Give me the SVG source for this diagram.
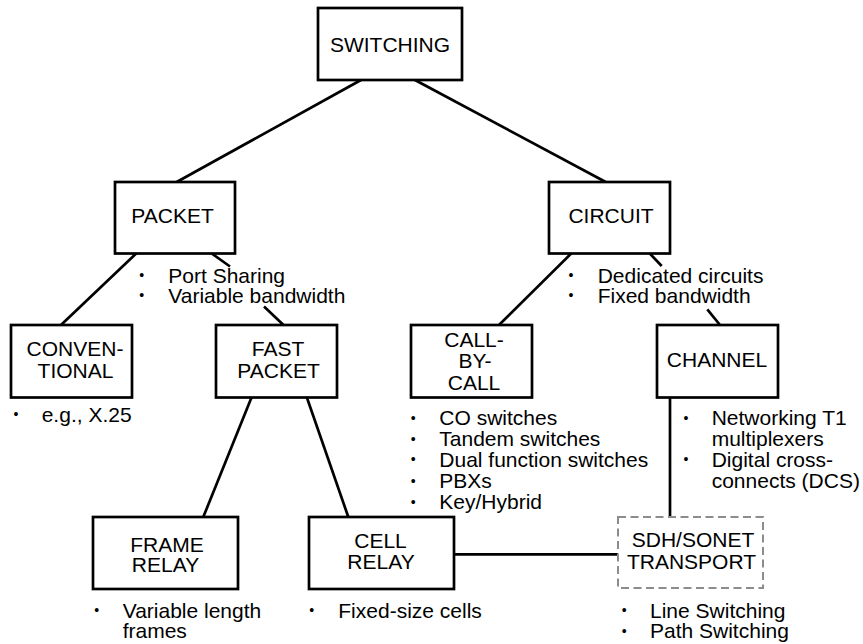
<svg xmlns="http://www.w3.org/2000/svg" width="863" height="644" viewBox="0 0 863 644">
<style>
.box{fill:#fff;stroke:#000;stroke-width:2.7}
.dash{fill:#fff;stroke:#8c8c8c;stroke-width:2;stroke-dasharray:8 4.5}
.conn{stroke:#000;stroke-width:2.7;fill:none}
text{font-family:"Liberation Sans",Arial,Helvetica,sans-serif;font-size:21px;fill:#000}
.c{text-anchor:middle}
.b{font-size:14px;text-anchor:middle}
</style>
<rect width="863" height="644" fill="#fff"/>
<g id="connectors">
<line class="conn" x1="361" y1="80" x2="176.7" y2="182"/>
<line class="conn" x1="415" y1="80" x2="605.7" y2="182"/>
<line class="conn" x1="136.7" y1="253" x2="61" y2="325"/>
<line class="conn" x1="211" y1="253" x2="230" y2="266.5"/>
<line class="conn" x1="264" y1="306.5" x2="283.5" y2="325"/>
<line class="conn" x1="571.7" y1="253" x2="499" y2="325"/>
<line class="conn" x1="649.3" y1="253" x2="661.7" y2="266"/>
<line class="conn" x1="707.3" y1="309.3" x2="720" y2="325"/>
<line class="conn" x1="251.7" y1="397" x2="203.3" y2="517"/>
<line class="conn" x1="306.7" y1="397" x2="348.3" y2="517"/>
<line class="conn" x1="670" y1="397" x2="670" y2="517"/>
<line class="conn" x1="454" y1="554.3" x2="618" y2="554.3"/>
</g>
<g id="switching">
<rect class="box" x="318" y="8" width="144" height="72"/>
<text class="c" x="390" y="52">SWITCHING</text>
</g>
<g id="packet">
<rect class="box" x="115" y="182" width="120" height="71.5"/>
<text class="c" x="172.5" y="222.7">PACKET</text>
<text class="b" x="141.7" y="280.2">•</text><text x="168.3" y="282.7">Port Sharing</text>
<text class="b" x="141.7" y="300.2">•</text><text x="168.3" y="302.7">Variable bandwidth</text>
</g>
<g id="circuit">
<rect class="box" x="549" y="182" width="121" height="71.5"/>
<text class="c" x="611" y="222.7">CIRCUIT</text>
<text class="b" x="571" y="280.2">•</text><text x="597.7" y="282.7">Dedicated circuits</text>
<text class="b" x="571" y="300.2">•</text><text x="597.7" y="302.7">Fixed bandwidth</text>
</g>
<g id="conventional">
<rect class="box" x="11" y="325" width="121" height="72.5"/>
<text class="c" x="75" y="356">CONVEN-</text>
<text class="c" x="75.5" y="377.7">TIONAL</text>
<text class="b" x="16" y="419.2">•</text><text x="41.7" y="421.7">e.g., X.25</text>
</g>
<g id="fast-packet">
<rect class="box" x="216" y="325" width="121" height="72.5"/>
<text class="c" x="278" y="356">FAST</text>
<text class="c" x="278.5" y="377.7">PACKET</text>
</g>
<g id="call-by-call">
<rect class="box" x="411" y="325" width="121" height="72.5"/>
<text class="c" x="474" y="347.3">CALL-</text>
<text class="c" x="475" y="368.3">BY-</text>
<text class="c" x="474" y="390">CALL</text>
<text class="b" x="413.3" y="422.5">•</text><text x="439.3" y="425">CO switches</text>
<text class="b" x="413.3" y="443.5">•</text><text x="439.3" y="446">Tandem switches</text>
<text class="b" x="413.3" y="464.2">•</text><text x="439.3" y="466.7">Dual function switches</text>
<text class="b" x="413.3" y="485.8">•</text><text x="439.3" y="488.3">PBXs</text>
<text class="b" x="413.3" y="506.8">•</text><text x="439.3" y="509.3">Key/Hybrid</text>
</g>
<g id="channel">
<rect class="box" x="657" y="325" width="121" height="72.5"/>
<text class="c" x="717" y="366.7">CHANNEL</text>
<text class="b" x="686" y="422.5">•</text><text x="711.7" y="425">Networking T1</text>
<text x="711.7" y="446">multiplexers</text>
<text class="b" x="686" y="464.2">•</text><text x="711.7" y="466.7">Digital cross-</text>
<text x="711.7" y="488">connects (DCS)</text>
</g>
<g id="frame-relay">
<rect class="box" x="93" y="517" width="145" height="72"/>
<text class="c" x="167" y="551.5">FRAME</text>
<text class="c" x="165.5" y="572">RELAY</text>
<text class="b" x="96.7" y="615">•</text><text x="122.7" y="617.5">Variable length</text>
<text x="122.7" y="638">frames</text>
</g>
<g id="cell-relay">
<rect class="box" x="309" y="517" width="145" height="72"/>
<text class="c" x="380.5" y="547.7">CELL</text>
<text class="c" x="381" y="569.3">RELAY</text>
<text class="b" x="311.7" y="615">•</text><text x="338.3" y="617.5">Fixed-size cells</text>
</g>
<g id="sdh-sonet">
<rect class="dash" x="618" y="517" width="145" height="71"/>
<text class="c" x="693" y="547.3">SDH/SONET</text>
<text class="c" x="691.5" y="569.3">TRANSPORT</text>
<text class="b" x="624.3" y="615.2">•</text><text x="650" y="617.7">Line Switching</text>
<text class="b" x="624.3" y="635.8">•</text><text x="650" y="638.3">Path Switching</text>
</g>
</svg>
